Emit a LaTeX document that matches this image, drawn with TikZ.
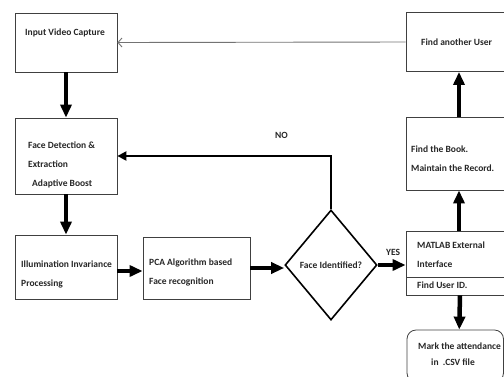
\documentclass[tikz,border=0pt]{standalone}
\usepackage{fontspec}
\setmainfont{Carlito}
\usetikzlibrary{shapes.geometric,arrows.meta}
\tikzset{>=latex}
\tikzset{
	box/.style={draw=black!75,line width=0.8pt,rectangle,inner sep=0pt},
	txt/.style={font=\fontsize{9.5}{19}\selectfont\bfseries,text=black!85,inner sep=0pt,align=left,anchor=west},
	flow/.style={line width=4.5pt,-{Triangle[length=13pt,width=11pt]}},
	back/.style={line width=2.2pt,-{Triangle[length=9pt,width=9pt]}},
}

\begin{document}
\begin{tikzpicture}[x=1pt,y=-1pt]
	\useasboundingbox (0,0) rectangle (504,376);
	\clip (0,0) rectangle (504,376);
	% left column
	\node[box,minimum width=102pt,minimum height=59pt] (capture) at (66,42.5) {};
	\node[box,minimum width=102pt,minimum height=76pt] (detect) at (66,156) {};
	\node[box,minimum width=102pt,minimum height=64pt] (illum) at (66,267) {};
	\node[box,minimum width=107pt,minimum height=62pt] (pca) at (196.5,268) {};
	\node[draw,line width=1.6pt,diamond,minimum width=92pt,minimum height=110pt,inner sep=0pt,font=\fontsize{9.5}{10}\selectfont\bfseries,text=black!85] (ident) at (331,265) {Face Identified?};
	% right column
	\node[box,minimum width=100pt,minimum height=59pt] (another) at (456,42) {};
	\node[box,minimum width=100pt,minimum height=73pt] (book) at (456,153.5) {};
	\node[box,minimum width=100pt,minimum height=46pt] (matlab) at (456,254) {};
	\node[box,minimum width=100pt,minimum height=18pt] (userid) at (456,286) {};
	\node[box,rounded corners=9pt,minimum width=96.5pt,minimum height=52pt] (mark) at (455.25,356) {};

	\node[txt] at (25,33) {Input Video Capture};
	\node[txt] at (28,165) {Face Detection \&\\Extraction\\\hspace*{4pt}Adaptive Boost};
	\node[txt] at (21,274) {Illumination Invariance\\Processing};
	\node[txt] at (149,272) {PCA Algorithm based\\Face recognition};
	\node[txt] at (421,42) {Find another User};
	\node[txt] at (411,159) {Find the Book.\\Maintain the Record.};
	\node[txt] at (417,254.5) {MATLAB External\\Interface};
	\node[txt] at (417,285) {Find User ID.};
	\node[txt,font=\fontsize{9.5}{16}\selectfont\bfseries] at (418,354) {Mark the attendance\\\hspace*{13pt}in \ .CSV file};
	\node[txt] (no) at (275,135) {NO};
	\node[txt] (yes) at (386,252) {YES};

	% connectors
	\draw[flow] (capture) -- (detect);
	\draw[flow] (detect) -- (illum);
	\draw[flow] ([yshift=-4pt]illum.east) -- ([yshift=-4pt]illum.east -| pca.west);
	\draw[flow] (pca.east) -- (pca.east -| ident.west);
	\draw[flow] (ident.east) -- (ident.east -| matlab.west);
	\draw[flow] ([xshift=3pt]matlab.north) -- ([xshift=3pt]book.south);
	\draw[flow] ([xshift=3pt]book.north) -- ([xshift=3pt]another.south);
	\draw[flow] ([xshift=4pt]userid.south) -- ([xshift=4pt]mark.north);
	\draw[back] (ident.north) |- (detect.east);
	\draw[black!55,line width=0.9pt,-{Straight Barb[length=4pt,width=9pt]}] (another.west) -- (capture.east);
\end{tikzpicture}
\end{document}
